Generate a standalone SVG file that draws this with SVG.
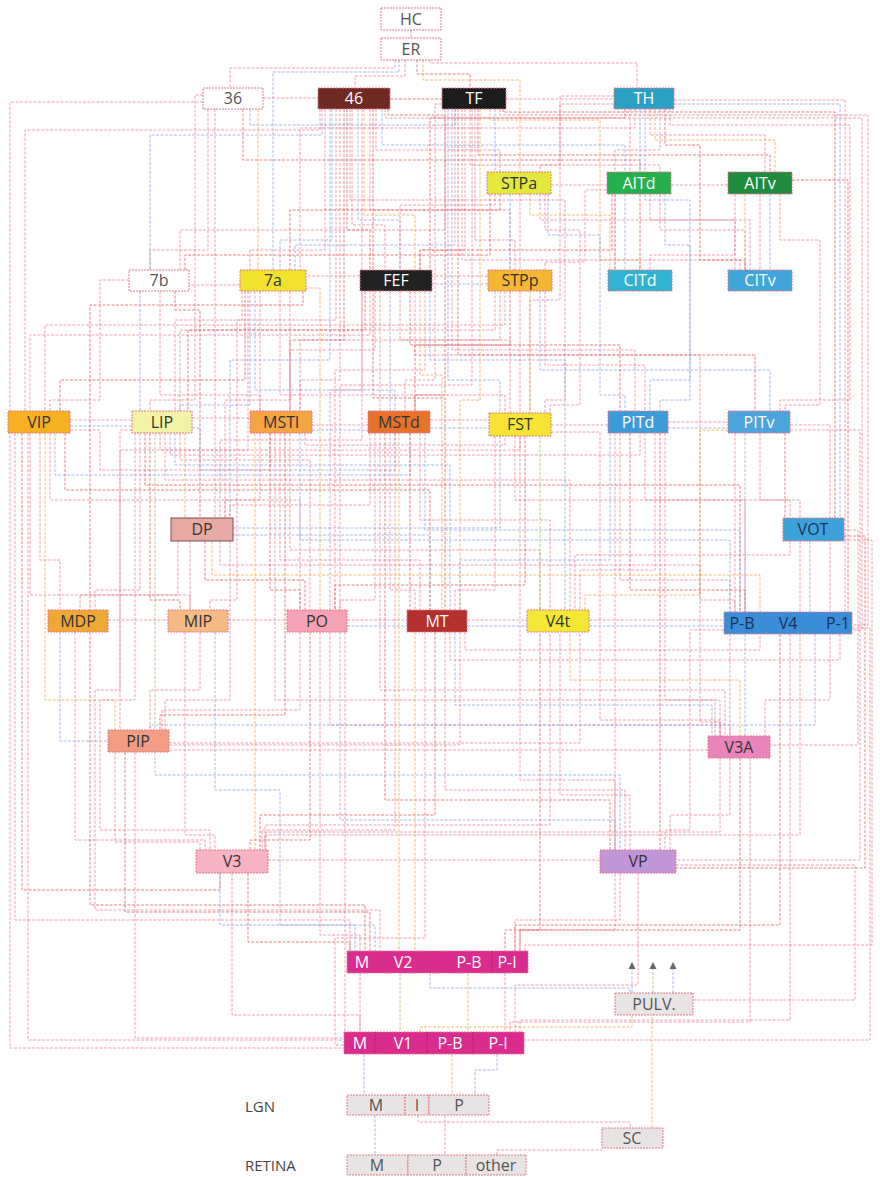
<svg xmlns="http://www.w3.org/2000/svg" width="880" height="1177" viewBox="0 0 880 1177">
<style>
.cn path{fill:none;stroke-width:1;stroke-dasharray:3 1.5;opacity:.75}
.a{stroke:#ec7f9b}.b{stroke:#8ea3dd}.c{stroke:#f2a94e}.d{stroke:#e2585a}.e{stroke:#95c36f}
.nd rect{stroke:#e07a8c;stroke-width:1;stroke-dasharray:2 1}
.nd text{font-family:"Open Sans","Liberation Sans",sans-serif;font-size:16px;text-anchor:middle}
.w{fill:#fff}.dk{fill:#333}.gr{fill:#555}.nv{fill:#1c2f5c}
.lbl{font-family:"Open Sans","Liberation Sans",sans-serif;font-size:15px;fill:#444}
</style>
<defs>
<marker id="ah" viewBox="0 0 10 10" refX="10" refY="5" markerUnits="userSpaceOnUse" markerWidth="7" markerHeight="9" orient="auto"><path d="M0 0L10 5L0 10z" fill="#333"/></marker>
</defs>
<rect width="880" height="1177" fill="#fff"/>
<g id="connectors" class="cn">
<path class="a" d="M411 30V38"/>
<path class="a" d="M395 60V68H230V88"/>
<path class="b" d="M399 60V72H273V270"/>
<path class="a" d="M405 60V76H355V88"/>
<path class="d" d="M417 60V74H470V88"/>
<path class="c" d="M423 60V80H520V172"/>
<path class="a" d="M430 60V63H637V88"/>
<path class="a" d="M263 98H318"/>
<path class="a" d="M215 109V518"/>
<path class="d" d="M243 109V160H640V172"/>
<path class="b" d="M250 109V125H455V109"/>
<path class="a" d="M208 109V250H150V270"/>
<path class="c" d="M258 109V270"/>
<path class="a" d="M203 95H195V400H150V411"/>
<path class="a" d="M203 102H10V1048H344"/>
<path class="d" d="M390 99H442"/>
<path class="a" d="M325 109V250H250V270"/>
<path class="b" d="M332 109V240H280V270"/>
<path class="a" d="M340 109V380H300V411"/>
<path class="d" d="M347 109V230H370V270"/>
<path class="a" d="M352 109V225H385V270"/>
<path class="b" d="M358 109V220H400V270"/>
<path class="c" d="M364 109V215H415V270"/>
<path class="a" d="M370 109V210H510V270"/>
<path class="a" d="M376 109V150H500V172"/>
<path class="b" d="M382 109V145H625V172"/>
<path class="d" d="M388 109V115H445V395H415V411"/>
<path class="a" d="M320 109V130H25V411"/>
<path class="b" d="M322 109V135H150V270"/>
<path class="a" d="M336 109V320H175V411"/>
<path class="d" d="M344 109V340H290V411"/>
<path class="a" d="M385 109V118H862V630H852"/>
<path class="a" d="M350 109V200H565V400H545V413"/>
<path class="b" d="M330 109V360H230V518"/>
<path class="a" d="M362 109V390H330V610"/>
<path class="d" d="M373 109V398H445V610"/>
<path class="a" d="M506 99H614"/>
<path class="b" d="M495 109V172"/>
<path class="a" d="M470 109V165H660V172"/>
<path class="d" d="M478 109V155H770V172"/>
<path class="c" d="M490 109V120H600V260H640V270"/>
<path class="a" d="M475 109V240H515V270"/>
<path class="a" d="M465 109V250H420V270"/>
<path class="b" d="M455 109V245H295V270"/>
<path class="a" d="M445 109V230H180V270"/>
<path class="b" d="M448 109V380H500V413"/>
<path class="a" d="M452 109V350H635V411"/>
<path class="d" d="M458 109V355H755V411"/>
<path class="a" d="M462 109V260H740V270"/>
<path class="a" d="M500 109V115H868V625H852"/>
<path class="d" d="M503 109V112H835V518"/>
<path class="a" d="M442 104H435V380H405V411"/>
<path class="a" d="M472 109V385H340V610"/>
<path class="c" d="M480 109V400H460V610"/>
<path class="a" d="M630 109V172"/>
<path class="b" d="M640 109V172"/>
<path class="a" d="M650 109V135H765V172"/>
<path class="c" d="M655 109V140H775V172"/>
<path class="a" d="M660 109V150H615V270"/>
<path class="d" d="M665 109V145H700V260H745V270"/>
<path class="a" d="M670 109V125H850V400H780V411"/>
<path class="a" d="M674 100H845V612"/>
<path class="b" d="M674 104H840V518"/>
<path class="a" d="M614 104H560V300H530V413"/>
<path class="d" d="M625 109V118H430V270"/>
<path class="a" d="M635 109V128H300V270"/>
<path class="a" d="M614 96H560V165H540V172"/>
<path class="b" d="M645 109V200H690V380H650V411"/>
<path class="a" d="M520 194V270"/>
<path class="b" d="M510 194V270"/>
<path class="a" d="M495 194V205H400V270"/>
<path class="d" d="M500 194V210H290V270"/>
<path class="c" d="M530 194V215H610V270"/>
<path class="a" d="M540 194V220H750V270"/>
<path class="a" d="M545 194V230H580V405H550V413"/>
<path class="b" d="M548 194V235H600V395H625V411"/>
<path class="a" d="M551 185H607"/>
<path class="d" d="M490 194V255H185V270"/>
<path class="a" d="M615 194V270"/>
<path class="b" d="M625 194V270"/>
<path class="d" d="M640 194V270"/>
<path class="a" d="M650 194V220H735V270"/>
<path class="a" d="M660 194V230H745V270"/>
<path class="b" d="M665 194V245H690V400H660V411"/>
<path class="a" d="M671 185H728"/>
<path class="a" d="M607 190H585V262H545V270"/>
<path class="d" d="M612 194V250H420V270"/>
<path class="a" d="M735 194V255H650V270"/>
<path class="c" d="M745 194V270"/>
<path class="a" d="M760 194V270"/>
<path class="b" d="M770 194V270"/>
<path class="a" d="M780 194V240H820V405H785V411"/>
<path class="d" d="M792 180H848V612"/>
<path class="a" d="M488 276H432"/>
<path class="b" d="M488 284H432"/>
<path class="a" d="M500 291V340H300V411"/>
<path class="d" d="M510 291V345H415V411"/>
<path class="a" d="M520 291V413"/>
<path class="c" d="M530 291V413"/>
<path class="a" d="M545 291V365H645V411"/>
<path class="b" d="M540 291V370H770V411"/>
<path class="a" d="M495 291V330H180V411"/>
<path class="a" d="M505 291V325H45V411"/>
<path class="a" d="M360 276H306"/>
<path class="d" d="M365 291V330H188V411"/>
<path class="a" d="M370 291V335H30V411"/>
<path class="a" d="M380 291V411"/>
<path class="b" d="M390 291V411"/>
<path class="a" d="M375 291V350H290V411"/>
<path class="a" d="M400 291V340H510V413"/>
<path class="d" d="M410 291V345H620V411"/>
<path class="c" d="M420 291V375H442V610"/>
<path class="a" d="M425 291V370H335V610"/>
<path class="b" d="M430 291V360H565V612"/>
<path class="a" d="M415 291V355H700V600H735V612"/>
<path class="a" d="M362 291V440H220V518"/>
<path class="a" d="M240 285H189"/>
<path class="b" d="M250 291V405H180V411"/>
<path class="a" d="M260 291V411"/>
<path class="d" d="M245 291V380H60V411"/>
<path class="b" d="M255 291V390H395V411"/>
<path class="a" d="M280 291V395H505V413"/>
<path class="a" d="M290 291V400H225V518"/>
<path class="c" d="M306 288H320V610"/>
<path class="a" d="M242 291V320H237V600H210V610"/>
<path class="d" d="M303 291V305H90V610"/>
<path class="a" d="M248 291V450H120V730"/>
<path class="a" d="M129 280H100V400H50V411"/>
<path class="b" d="M140 291V411"/>
<path class="a" d="M160 291V395H260V411"/>
<path class="d" d="M175 291V310H200V518"/>
<path class="a" d="M70 420H132"/>
<path class="b" d="M70 426H132"/>
<path class="a" d="M70 430H100V470H270V433"/>
<path class="a" d="M15 433V920H350V951"/>
<path class="d" d="M22 433V890H220V873"/>
<path class="a" d="M40 433V560H60V610"/>
<path class="b" d="M55 433V475H410V433"/>
<path class="a" d="M30 433V595H190V610"/>
<path class="a" d="M50 433V500H300V610"/>
<path class="d" d="M65 433V490H430V610"/>
<path class="c" d="M45 433V700H115V730"/>
<path class="a" d="M28 433V1040H344"/>
<path class="a" d="M192 418H250"/>
<path class="b" d="M192 428H200V470H395V433"/>
<path class="a" d="M140 433V590H95V610"/>
<path class="d" d="M150 433V600H180V610"/>
<path class="a" d="M160 433V450H520V436"/>
<path class="a" d="M170 433V455H640V433"/>
<path class="c" d="M185 433V518"/>
<path class="a" d="M180 433V460H310V610"/>
<path class="b" d="M175 433V465H450V610"/>
<path class="a" d="M165 433V480H570V612"/>
<path class="d" d="M145 433V485H740V612"/>
<path class="e" d="M155 433V730"/>
<path class="a" d="M135 433V700H100V830H210V850"/>
<path class="a" d="M132 430H120V690H95V910H380V951"/>
<path class="a" d="M312 425H368"/>
<path class="b" d="M312 430H368"/>
<path class="a" d="M260 433V500H225V518"/>
<path class="d" d="M270 433V590H300V610"/>
<path class="a" d="M280 433V560H420V610"/>
<path class="a" d="M290 433V550H540V612"/>
<path class="b" d="M300 433V540H730V612"/>
<path class="a" d="M305 433V445H505V436"/>
<path class="c" d="M255 433V850"/>
<path class="a" d="M275 433V700H720V736"/>
<path class="d" d="M285 433V715H160V730"/>
<path class="a" d="M430 420H489"/>
<path class="b" d="M430 428H489"/>
<path class="a" d="M375 433V600H340V610"/>
<path class="a" d="M390 433V590H415V610"/>
<path class="d" d="M410 433V610"/>
<path class="a" d="M420 433V520H550V612"/>
<path class="b" d="M425 433V530H740V612"/>
<path class="a" d="M370 433V505H230V518"/>
<path class="a" d="M380 433V690H725V736"/>
<path class="d" d="M385 433V800H610V850"/>
<path class="a" d="M395 433V830H262V850"/>
<path class="c" d="M399 433V951"/>
<path class="a" d="M551 425H608"/>
<path class="a" d="M495 436V590H455V610"/>
<path class="e" d="M540 436V612"/>
<path class="a" d="M515 436V500H745V612"/>
<path class="d" d="M525 436V585H335V610"/>
<path class="a" d="M551 432H600V720H720V736"/>
<path class="b" d="M500 436V528H233"/>
<path class="a" d="M520 436V780H615V850"/>
<path class="a" d="M668 422H728"/>
<path class="b" d="M668 428H728"/>
<path class="a" d="M620 433V580H730V612"/>
<path class="d" d="M630 433V590H745V612"/>
<path class="a" d="M645 433V500H790V518"/>
<path class="a" d="M655 433V570H580V612"/>
<path class="b" d="M610 433V560H460V610"/>
<path class="a" d="M665 433V700H715V736"/>
<path class="d" d="M660 433V850"/>
<path class="a" d="M615 433V930H520V951"/>
<path class="a" d="M735 433V612"/>
<path class="b" d="M745 433V612"/>
<path class="a" d="M760 433V500H800V518"/>
<path class="d" d="M785 433V518"/>
<path class="a" d="M790 425H830V700H765V736"/>
<path class="a" d="M790 430H860V860H676"/>
<path class="c" d="M728 430H700V595H585V612"/>
<path class="a" d="M800 541V612"/>
<path class="b" d="M810 541V612"/>
<path class="a" d="M844 530H858V745H770"/>
<path class="d" d="M844 536H865V868H676"/>
<path class="a" d="M790 541V555H575V612"/>
<path class="a" d="M844 540H872V945H525V951"/>
<path class="a" d="M108 620H168"/>
<path class="b" d="M60 632V741H108"/>
<path class="a" d="M75 632V840H205V850"/>
<path class="d" d="M90 632V905H365V951"/>
<path class="a" d="M200 632V690H150V730"/>
<path class="a" d="M185 632V835H215V850"/>
<path class="b" d="M215 632V790H280V925H375V951"/>
<path class="a" d="M228 620H287"/>
<path class="a" d="M190 541V610"/>
<path class="d" d="M205 541V580H305V610"/>
<path class="a" d="M220 541V565H700V722H720V736"/>
<path class="a" d="M230 541V700H165V730"/>
<path class="b" d="M233 535H430V610"/>
<path class="a" d="M178 541V595H80V610"/>
<path class="c" d="M212 541V575H760V612"/>
<path class="a" d="M347 620H407"/>
<path class="b" d="M347 626H407"/>
<path class="a" d="M300 632V710H162V730"/>
<path class="d" d="M310 632V840H250V850"/>
<path class="a" d="M320 632V935H360V951"/>
<path class="a" d="M330 632V725H730V736"/>
<path class="b" d="M340 632V820H615V850"/>
<path class="a" d="M345 632V1032"/>
<path class="a" d="M467 620H527"/>
<path class="b" d="M467 626H527"/>
<path class="c" d="M415 632V951"/>
<path class="a" d="M425 632V938H335V1045H344"/>
<path class="d" d="M435 632V815H260V850"/>
<path class="a" d="M445 632V790H625V850"/>
<path class="b" d="M455 632V705H712V736"/>
<path class="a" d="M460 632V745H169"/>
<path class="a" d="M465 632V650H760V634"/>
<path class="a" d="M589 620H724"/>
<path class="b" d="M589 626H724"/>
<path class="d" d="M540 634V930H505V951"/>
<path class="a" d="M550 634V825H265V850"/>
<path class="a" d="M560 634V795H630V850"/>
<path class="c" d="M570 634V680H740V736"/>
<path class="a" d="M580 634V743H169"/>
<path class="a" d="M730 634V736"/>
<path class="b" d="M745 634V736"/>
<path class="a" d="M724 630H690V830H665V850"/>
<path class="d" d="M780 634V925H515V951"/>
<path class="a" d="M790 634V1020H520V1032"/>
<path class="a" d="M800 634V835H265V850"/>
<path class="b" d="M815 634V725H150V730"/>
<path class="a" d="M852 628H870V1040H524"/>
<path class="a" d="M840 634V660H450V632"/>
<path class="a" d="M115 752V842H200V850"/>
<path class="d" d="M125 752V912H370V951"/>
<path class="a" d="M135 752V1038H344"/>
<path class="b" d="M155 752V775H620V850"/>
<path class="a" d="M720 758V832H266V850"/>
<path class="a" d="M730 758V815H670V850"/>
<path class="d" d="M740 758V930H520V951"/>
<path class="a" d="M750 758V1022H510V1032"/>
<path class="a" d="M708 750H169"/>
<path class="a" d="M268 860H600"/>
<path class="b" d="M220 873V925H355V951"/>
<path class="a" d="M232 873V1015H360V1032"/>
<path class="d" d="M248 873V942H350V951"/>
<path class="a" d="M620 873V920H515V951"/>
<path class="a" d="M638 873V985H515V1032"/>
<path class="a" d="M676 865H855V1000H693"/>
<path class="a" d="M360 973V1032"/>
<path class="e" d="M400 973V1032"/>
<path class="c" d="M468 973V1032"/>
<path class="a" d="M505 973V1032"/>
<path class="b" d="M430 973V988H630V993"/>
<path class="c" d="M420 1032V1027H632V1015"/>
<path class="b" d="M364 1054V1095"/>
<path class="c" d="M452 1054V1095"/>
<path class="b" d="M497 1054V1070H475V1095"/>
<path class="a" d="M418 1115V1122H630V1128"/>
<path class="b" d="M375 1115V1155"/>
<path class="a" d="M445 1115V1155"/>
<path class="a" d="M497 1155V1150H602"/>
<path class="c" d="M652 1128V1015"/>
<path class="b" d="M632 993V962" marker-end="url(#ah)"/>
<path class="e" d="M653 993V962" marker-end="url(#ah)"/>
<path class="b" d="M673 993V962" marker-end="url(#ah)"/>
</g>
<g class="nd">
<g id="HC"><rect x="381" y="8" width="60" height="22" fill="#fff"/><text x="411" y="25" class="gr">HC</text></g>
<g id="ER"><rect x="381" y="38" width="60" height="22" fill="#fff"/><text x="411" y="55" class="gr">ER</text></g>
<g id="n36"><rect x="203" y="88" width="60" height="21" fill="#fff"/><text x="233" y="104" class="gr">36</text></g>
<g id="n46"><rect x="318" y="88" width="72" height="21" fill="#6e2a22"/><text x="354" y="104" class="w">46</text></g>
<g id="TF"><rect x="442" y="88" width="64" height="21" fill="#1c1c1c"/><text x="474" y="104" class="w">TF</text></g>
<g id="TH"><rect x="614" y="88" width="60" height="21" fill="#2aa0c4"/><text x="644" y="104" class="w">TH</text></g>
<g id="STPa"><rect x="487" y="172" width="64" height="22" fill="#e4e83c"/><text x="519" y="189" class="dk">STPa</text></g>
<g id="AITd"><rect x="607" y="172" width="64" height="22" fill="#24b04c"/><text x="639" y="189" class="w">AITd</text></g>
<g id="AITv"><rect x="728" y="172" width="64" height="22" fill="#1e8c3c"/><text x="760" y="189" class="w">AITv</text></g>
<g id="n7b"><rect x="129" y="270" width="60" height="21" fill="#fff"/><text x="159" y="286" class="gr">7b</text></g>
<g id="n7a"><rect x="240" y="270" width="66" height="21" fill="#f2e22c"/><text x="273" y="286" class="dk">7a</text></g>
<g id="FEF"><rect x="360" y="270" width="72" height="21" fill="#222"/><text x="396" y="286" class="w">FEF</text></g>
<g id="STPp"><rect x="488" y="270" width="64" height="21" fill="#f5b632"/><text x="520" y="286" class="dk">STPp</text></g>
<g id="CITd"><rect x="608" y="270" width="64" height="21" fill="#30b2d0"/><text x="640" y="286" class="w">CITd</text></g>
<g id="CITv"><rect x="728" y="270" width="64" height="21" fill="#40a6da"/><text x="760" y="286" class="w">CITv</text></g>
<g id="VIP"><rect x="8" y="411" width="62" height="22" fill="#f5b024"/><text x="39" y="428" class="dk">VIP</text></g>
<g id="LIP"><rect x="132" y="411" width="60" height="22" fill="#f2f3a4"/><text x="162" y="428" class="dk">LIP</text></g>
<g id="MSTl"><rect x="250" y="411" width="62" height="22" fill="#f5a444"/><text x="281" y="428" class="dk">MSTl</text></g>
<g id="MSTd"><rect x="368" y="411" width="62" height="22" fill="#e8722c"/><text x="399" y="428" class="dk">MSTd</text></g>
<g id="FST"><rect x="489" y="413" width="62" height="23" fill="#f5e434"/><text x="520" y="430" class="dk">FST</text></g>
<g id="PITd"><rect x="608" y="411" width="60" height="22" fill="#3c9cd8"/><text x="638" y="428" class="w">PITd</text></g>
<g id="PITv"><rect x="728" y="411" width="62" height="22" fill="#4ca4dc"/><text x="759" y="428" class="w">PITv</text></g>
<g id="DP"><rect x="171" y="518" width="62" height="23" fill="#e8a8a4" style="stroke:#7a5050;stroke-dasharray:none"/><text x="202" y="535" class="dk">DP</text></g>
<g id="VOT"><rect x="783" y="518" width="61" height="23" fill="#3ea2da"/><text x="813" y="535" class="nv">VOT</text></g>
<g id="MDP"><rect x="48" y="610" width="60" height="22" fill="#f0a834"/><text x="78" y="627" class="dk">MDP</text></g>
<g id="MIP"><rect x="168" y="610" width="60" height="22" fill="#f6ba84"/><text x="198" y="627" class="dk">MIP</text></g>
<g id="PO"><rect x="287" y="610" width="60" height="22" fill="#f5a2b4"/><text x="317" y="627" class="dk">PO</text></g>
<g id="MT"><rect x="407" y="610" width="60" height="22" fill="#b4302c"/><text x="437" y="627" class="w">MT</text></g>
<g id="V4t"><rect x="527" y="610" width="62" height="22" fill="#f5e834"/><text x="558" y="627" class="dk">V4t</text></g>
<g id="V4"><rect x="724" y="612" width="128" height="22" fill="#3a8ed8"/><text x="742" y="629" class="nv">P-B</text><text x="788" y="629" class="nv">V4</text><text x="838" y="629" class="nv">P-1</text></g>
<g id="PIP"><rect x="108" y="730" width="61" height="22" fill="#f29c84"/><text x="138" y="747" class="dk">PIP</text></g>
<g id="V3A"><rect x="708" y="736" width="62" height="22" fill="#ea84bc"/><text x="739" y="753" class="dk">V3A</text></g>
<g id="V3"><rect x="196" y="850" width="72" height="23" fill="#f6b4c4"/><text x="232" y="867" class="dk">V3</text></g>
<g id="VP"><rect x="600" y="850" width="76" height="23" fill="#c294d8"/><text x="638" y="867" class="dk">VP</text></g>
<g id="V2"><rect x="347" y="951" width="181" height="22" fill="#d92c8c"/><path d="M492 951V973" stroke="#b02070" stroke-dasharray="2 1" fill="none"/><text x="362" y="968" class="w">M</text><text x="403" y="968" class="w">V2</text><text x="469" y="968" class="w">P-B</text><text x="507" y="968" class="w">P-I</text></g>
<g id="PULV"><rect x="615" y="993" width="78" height="22" fill="#e8e4e4"/><text x="654" y="1010" class="gr">PULV.</text></g>
<g id="V1"><rect x="344" y="1032" width="180" height="22" fill="#d92c8c"/><path d="M375 1032V1054M427 1032V1054M473 1032V1054" stroke="#b02070" stroke-dasharray="2 1" fill="none"/><text x="360" y="1049" class="w">M</text><text x="403" y="1049" class="w">V1</text><text x="450" y="1049" class="w">P-B</text><text x="498" y="1049" class="w">P-I</text></g>
<g id="LGN"><rect x="347" y="1095" width="58" height="20" fill="#e8e4e4"/><rect x="405" y="1095" width="24" height="20" fill="#e8e4e4"/><rect x="429" y="1095" width="60" height="20" fill="#e8e4e4"/><text x="376" y="1111" class="gr">M</text><text x="417" y="1111" class="gr">I</text><text x="459" y="1111" class="gr">P</text></g>
<g id="SC"><rect x="602" y="1128" width="61" height="20" fill="#e8e4e4"/><text x="632" y="1144" class="gr">SC</text></g>
<g id="RETINA"><rect x="347" y="1155" width="61" height="20" fill="#e8e4e4"/><rect x="408" y="1155" width="58" height="20" fill="#e8e4e4"/><rect x="466" y="1155" width="60" height="20" fill="#e8e4e4"/><text x="377" y="1171" class="gr">M</text><text x="437" y="1171" class="gr">P</text><text x="496" y="1171" class="gr">other</text></g>
</g>
<text x="245" y="1112" class="lbl">LGN</text>
<text x="245" y="1171" class="lbl">RETINA</text>
</svg>
